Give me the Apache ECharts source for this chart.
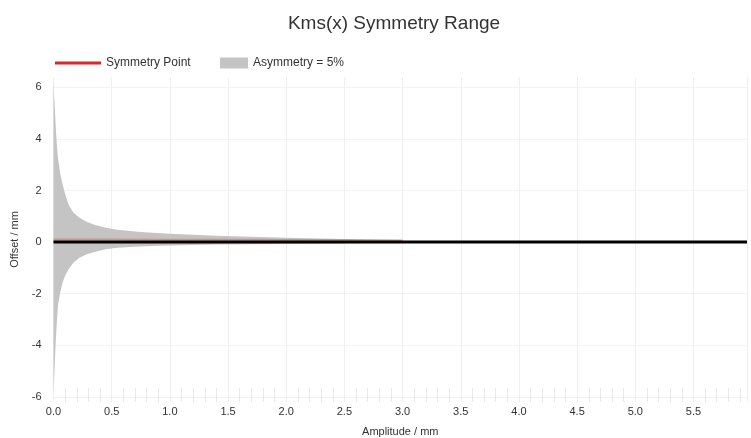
<!DOCTYPE html>
<html>
<head>
<meta charset="utf-8">
<script src="https://cdn.jsdelivr.net/npm/echarts@6/dist/echarts.min.js"></script>
<style>html,body{margin:0;padding:0;background:#fff}#c{width:751px;height:438px}</style>
</head>
<body>
<div id="c"></div>
<script>
var bandX = [0, 0.01, 0.02, 0.03, 0.04, 0.06, 0.08, 0.1, 0.13, 0.17, 0.22, 0.28, 0.35, 0.45, 0.55, 0.7, 0.85, 1.0, 1.2, 1.4, 1.7, 2.0, 2.3, 2.6, 3.0];
var upperY = [6.2, 5.3, 4.4, 3.7, 3.2, 2.6, 2.2, 1.85, 1.45, 1.15, 0.95, 0.8, 0.67, 0.56, 0.48, 0.41, 0.36, 0.32, 0.28, 0.25, 0.21, 0.17, 0.14, 0.11, 0.08];
var lowerY = [-5.9, -4.8, -3.8, -3.0, -2.4, -1.9, -1.55, -1.3, -1.05, -0.8, -0.62, -0.48, -0.38, -0.28, -0.22, -0.18, -0.15, -0.13, -0.11, -0.09, -0.08, -0.07, -0.06, -0.05, -0.04];
var symX = [0, 0.5, 1.0, 1.5, 2.0, 2.5, 3.0];
var symY = [0.1, 0.1, 0.09, 0.09, 0.08, 0.08, 0.07];
var zeroX = [0, 5.96];
var zeroY = [0, 0];
var yTicks = [-6, -4, -2, 0, 2, 4, 6];

function pairs(xs, ys) { return xs.map(function (x, i) { return [x, ys[i]]; }); }

var chart = echarts.init(document.getElementById('c'));
var font = 'Liberation Sans, Arial, sans-serif';
chart.setOption({
  animation: false,
  textStyle: { fontFamily: font },
  title: {
    text: 'Kms(x) Symmetry Range',
    left: 389, top: 9, textAlign: 'center',
    textStyle: { fontSize: 19, fontWeight: 'normal', color: '#333', fontFamily: font }
  },
  legend: [
    { data: [{ name: 'Symmetry Point', icon: 'rect', itemStyle: { color: '#e02424', opacity: 1 } }],
      left: 50, top: 52, itemWidth: 46, itemHeight: 3,
      textStyle: { fontSize: 12, color: '#333', fontFamily: font } },
    { data: [{ name: 'Asymmetry = 5%', icon: 'rect' }], left: 215, top: 52, itemWidth: 28, itemHeight: 11,
      textStyle: { fontSize: 12, color: '#333', fontFamily: font } }
  ],
  grid: { left: 53.5, right: 4, top: 77, bottom: 36, outerBoundsMode: 'none', containLabel: false },
  xAxis: {
    type: 'value', min: 0, max: 5.96, interval: 0.5,
    name: 'Amplitude / mm', nameLocation: 'middle', nameGap: 24,
    nameTextStyle: { fontSize: 11, color: '#333' },
    axisLine: { show: false, onZero: false },
    axisTick: { show: false, inside: true },
    minorTick: { show: true, splitNumber: 5, length: 14, inside: true, lineStyle: { color: '#e8e8e8' } },
    axisLabel: { fontSize: 11, color: '#333', showMaxLabel: false, margin: 4,
      formatter: function (v) { return v.toFixed(1); } },
    splitLine: { show: true, lineStyle: { color: '#efefef' } }
  },
  yAxis: {
    type: 'value', min: -6.2, max: 6.4,
    name: 'Offset / mm', nameLocation: 'middle', nameGap: 31,
    nameTextStyle: { fontSize: 11, color: '#333' },
    axisLine: { show: false },
    axisTick: { show: false, customValues: yTicks },
    axisLabel: { fontSize: 11, color: '#333', customValues: yTicks, margin: 12 },
    splitLine: { show: true, lineStyle: { color: '#f3f3f3' } }
  },
  series: [
    { name: 'Asymmetry = 5%', type: 'line', data: pairs(bandX, upperY), showSymbol: false, symbol: 'none',
      color: '#c4c4c4', lineStyle: { width: 0 }, areaStyle: { color: '#c4c4c4', opacity: 1 }, z: 1 },
    { name: 'Asymmetry = 5%', type: 'line', data: pairs(bandX, lowerY), showSymbol: false, symbol: 'none',
      color: '#c4c4c4', lineStyle: { width: 0 }, areaStyle: { color: '#c4c4c4', opacity: 1 }, z: 1 },
    { name: 'Symmetry Point', type: 'line', data: pairs(symX, symY), showSymbol: false, symbol: 'none',
      color: '#e02424', lineStyle: { width: 2, color: 'rgba(224,36,36,0.3)' }, z: 2 },
    { name: 'zero', type: 'line', data: pairs(zeroX, zeroY), showSymbol: false, symbol: 'none',
      lineStyle: { width: 3, color: '#000' }, z: 3 }
  ]
});
</script>
</body>
</html>
